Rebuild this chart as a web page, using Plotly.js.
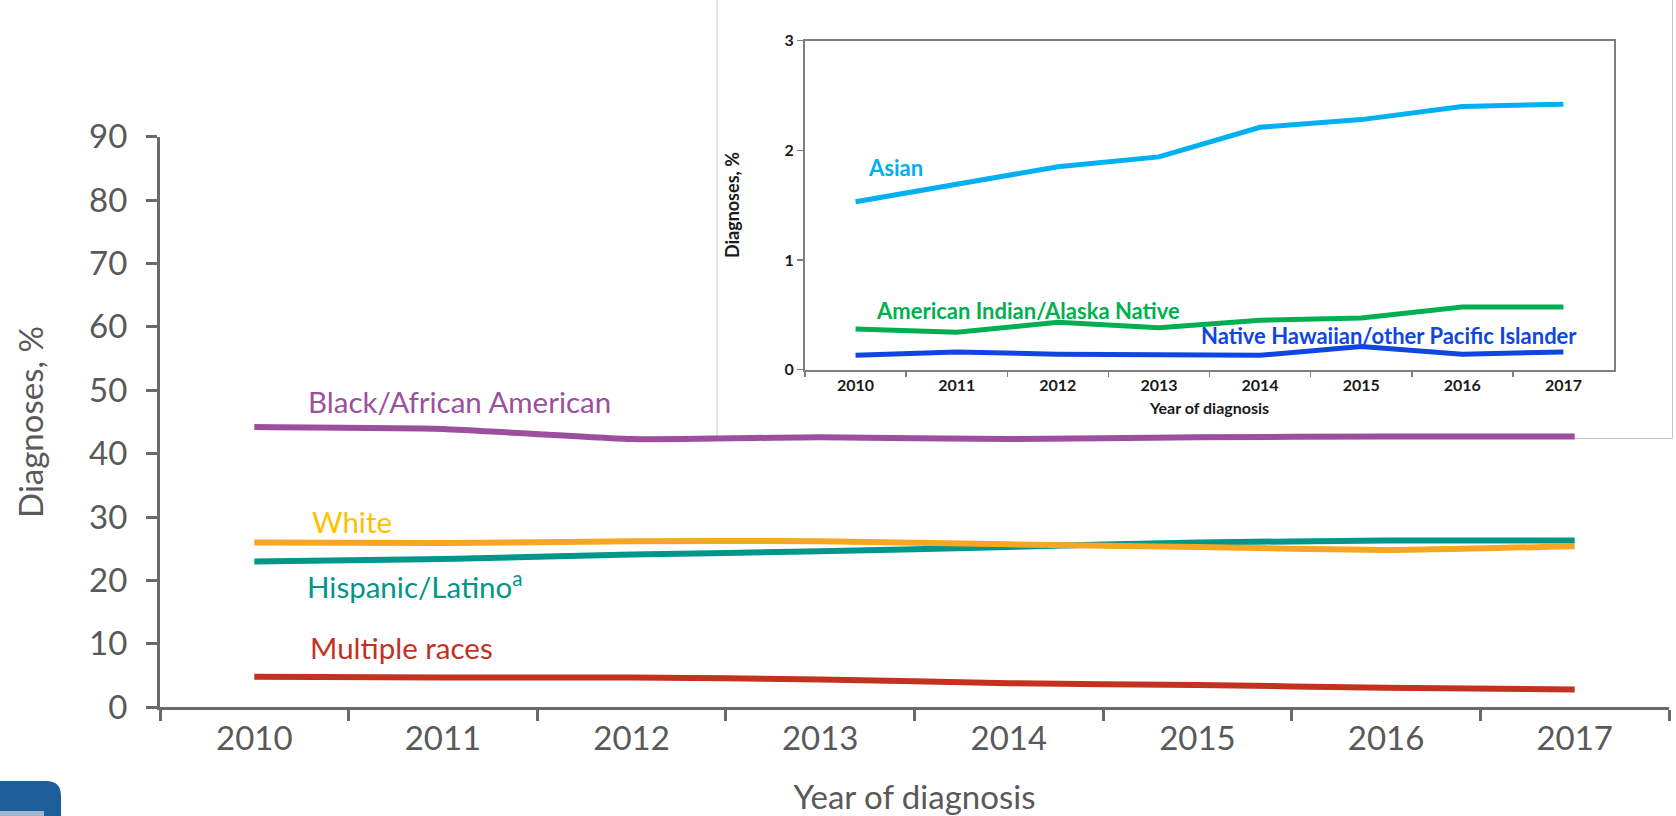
<!DOCTYPE html>
<html>
<head>
<meta charset="utf-8">
<script src="https://cdn.plot.ly/plotly-3.0.1.min.js"></script>
<style>
  html, body { margin: 0; padding: 0; background: #ffffff; }
  #chart { width: 1676px; height: 816px; }
</style>
</head>
<body>
<div id="chart"></div>
<script>
// ---- Data ----
const years = ['2010', '2011', '2012', '2013', '2014', '2015', '2016', '2017'];

// Main chart, % of diagnoses
const blackAfricanAmerican = [44.2, 43.9, 42.3, 42.6, 42.3, 42.6, 42.7, 42.7];
const white = [26.0, 25.9, 26.2, 26.2, 25.7, 25.3, 24.8, 25.4];
const hispanicLatino = [23.0, 23.4, 24.1, 24.6, 25.3, 26.0, 26.3, 26.3];
const multipleRaces = [4.8, 4.7, 4.7, 4.4, 3.8, 3.5, 3.1, 2.8];

// Inset chart, % of diagnoses
const asian = [1.53, 1.69, 1.85, 1.94, 2.21, 2.28, 2.40, 2.42];
const americanIndianAlaskaNative = [0.37, 0.34, 0.43, 0.38, 0.45, 0.47, 0.57, 0.57];
const nativeHawaiianPacificIslander = [0.13, 0.16, 0.14, 0.14, 0.13, 0.21, 0.14, 0.16];

const mainYTicks = [0, 10, 20, 30, 40, 50, 60, 70, 80, 90];
const insetYTicks = [0, 1, 2, 3];

// ---- Layout helpers (pixel -> paper) ----
const W = 1676, H = 816;
const px = x => x / W;
const py = y => 1 - y / H;

const FONT = 'Lato, "Open Sans", sans-serif';
const AXIS_GRAY = '#6a6a6a';
const TEXT_GRAY = '#595959';

const COLORS = {
  black: '#9B4F9E',
  white: '#F6A623',
  whiteLabel: '#FFC000',
  hispanic: '#00968A',
  multiple: '#C2321F',
  asian: '#00B0F0',
  aian: '#00B050',
  nhopi: '#1046E0'
};

function mainLine(y, color, name) {
  return {
    x: years, y: y, name: name, type: 'scatter', mode: 'lines',
    xaxis: 'x', yaxis: 'y',
    line: { color: color, width: 6, shape: 'spline', smoothing: 0.4 },
    hoverinfo: 'x+y+name'
  };
}
function insetLine(y, color, name) {
  return {
    x: years, y: y, name: name, type: 'scatter', mode: 'lines',
    xaxis: 'x2', yaxis: 'y2',
    line: { color: color, width: 5 },
    hoverinfo: 'x+y+name'
  };
}

const traces = [
  mainLine(multipleRaces, COLORS.multiple, 'Multiple races'),
  mainLine(hispanicLatino, COLORS.hispanic, 'Hispanic/Latino'),
  mainLine(white, COLORS.white, 'White'),
  mainLine(blackAfricanAmerican, COLORS.black, 'Black/African American'),
  insetLine(asian, COLORS.asian, 'Asian'),
  insetLine(americanIndianAlaskaNative, COLORS.aian, 'American Indian/Alaska Native'),
  insetLine(nativeHawaiianPacificIslander, COLORS.nhopi, 'Native Hawaiian/other Pacific Islander')
];

function label(text, xPx, yPx, color, size, bold) {
  return {
    text: text, xref: 'paper', yref: 'paper', x: px(xPx), y: py(yPx),
    xanchor: 'left', yanchor: 'middle', showarrow: false,
    font: { family: FONT, size: size, color: color, weight: bold ? 700 : 400 }
  };
}

const layout = {
  width: W, height: H,
  margin: { l: 0, r: 0, t: 0, b: 0, pad: 0 },
  paper_bgcolor: '#ffffff',
  plot_bgcolor: 'rgba(0,0,0,0)',
  showlegend: false,
  font: { family: FONT, color: TEXT_GRAY },
  xaxis: {
    domain: [px(160), px(1669)],
    type: 'category', range: [-0.5, 7.5],
    showline: true, linecolor: AXIS_GRAY, linewidth: 3,
    ticks: 'outside', tickson: 'boundaries', ticklen: 11, tickwidth: 3, tickcolor: AXIS_GRAY,
    tickfont: { family: FONT, size: 33, color: TEXT_GRAY },
    showgrid: false, zeroline: false,
    title: { text: 'Year of diagnosis', font: { family: FONT, size: 33, color: TEXT_GRAY }, standoff: 31 },
    anchor: 'y', fixedrange: true
  },
  yaxis: {
    domain: [py(707.3), py(136.7)],
    range: [0, 90], tickvals: mainYTicks,
    showline: true, linecolor: AXIS_GRAY, linewidth: 3,
    ticks: 'outside', ticklen: 11, tickwidth: 3, tickcolor: AXIS_GRAY, ticklabelstandoff: 12,
    tickfont: { family: FONT, size: 33, color: TEXT_GRAY },
    showgrid: false, zeroline: false,
    title: { text: 'Diagnoses, %', font: { family: FONT, size: 33, color: TEXT_GRAY }, standoff: 36 },
    anchor: 'x', fixedrange: true
  },
  xaxis2: {
    domain: [px(805), px(1614)],
    type: 'category', range: [-0.5, 7.5],
    showline: true, linecolor: '#7f7f7f', linewidth: 2, mirror: true,
    ticks: 'outside', tickson: 'boundaries', ticklen: 5, tickwidth: 1.5, tickcolor: '#7f7f7f',
    tickfont: { family: FONT, size: 16, color: '#1a1a1a', weight: 700 },
    showgrid: false, zeroline: false,
    title: { text: 'Year of diagnosis', font: { family: FONT, size: 16, color: '#1a1a1a', weight: 700 }, standoff: 10 },
    anchor: 'y2', fixedrange: true
  },
  yaxis2: {
    domain: [py(369.5), py(40.7)],
    range: [0, 3], tickvals: insetYTicks,
    showline: true, linecolor: '#7f7f7f', linewidth: 2, mirror: true,
    ticks: 'outside', ticklen: 6, tickwidth: 1.5, tickcolor: '#7f7f7f',
    tickfont: { family: FONT, size: 16, color: '#1a1a1a', weight: 700 },
    showgrid: false, zeroline: false,
    title: { text: 'Diagnoses, %', font: { family: FONT, size: 18, color: '#1a1a1a', weight: 700 }, standoff: 40 },
    anchor: 'x2', fixedrange: true
  },
  shapes: [
    // inset panel frame
    {
      type: 'rect', xref: 'paper', yref: 'paper', layer: 'below',
      x0: px(717), x1: px(1672.5), y0: py(438.5), y1: py(-10),
      line: { color: '#c6c6c6', width: 1 }, fillcolor: '#ffffff'
    },
    // partial logo tile at bottom-left
    {
      type: 'path', xref: 'paper', yref: 'paper', layer: 'above',
      path: 'M ' + px(-10) + ',' + py(781) + ' L ' + px(46) + ',' + py(781) +
            ' Q ' + px(61) + ',' + py(781) + ' ' + px(61) + ',' + py(796) +
            ' L ' + px(61) + ',' + py(830) + ' L ' + px(-10) + ',' + py(830) + ' Z',
      line: { width: 0 }, fillcolor: '#1B5E99'
    },
    {
      type: 'rect', xref: 'paper', yref: 'paper', layer: 'above',
      x0: px(0), x1: px(44), y0: py(816), y1: py(811),
      line: { width: 0 }, fillcolor: '#9fb6cf'
    }
  ],
  annotations: [
    label('Black/African American', 306, 401, COLORS.black, 29.5, false),
    label('White', 310, 521, COLORS.whiteLabel, 29.5, false),
    label('Hispanic/Latino<sup>a</sup>', 305, 585, COLORS.hispanic, 29.5, false),
    label('Multiple races', 308, 647, COLORS.multiple, 29.5, false),
    label('Asian', 866, 168, COLORS.asian, 22, true),
    label('American Indian/Alaska Native', 874, 310, COLORS.aian, 22, true),
    label('Native Hawaiian/other Pacific Islander', 1199, 335, COLORS.nhopi, 22, true)
  ]
};

Plotly.newPlot('chart', traces, layout, { staticPlot: true, displayModeBar: false });
</script>
</body>
</html>
